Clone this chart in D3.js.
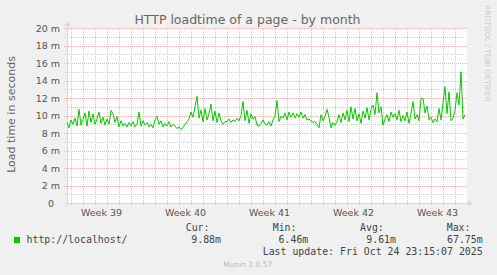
<!DOCTYPE html>
<html>
<head>
<meta charset="utf-8">
<script src="https://cdn.jsdelivr.net/npm/d3@7"></script>
<style>
  html, body { margin: 0; padding: 0; background: #f0f0f0; }
  svg { display: block; }
</style>
</head>
<body>
<div id="chart"></div>
<script>
const title = "HTTP loadtime of a page - by month";
const yLabel = "Load time in seconds";
const seriesName = "http://localhost/";
const startTime = Date.UTC(2025, 8, 21, 16);
const endTime = Date.UTC(2025, 9, 25, 0);
const stepHours = 4;

// load time in ms, one sample per 4 hours
const loadtime = [
  9.2, 8.6, 9.5, 9.0, 9.7, 8.8, 10.7, 8.9, 9.6, 10.3, 8.8, 10.5, 9.2, 10.2, 9.0, 9.6, 10.4, 9.1, 9.8, 8.9,
  9.6, 9.0, 10.6, 10.2, 9.2, 9.9, 8.7, 9.4, 8.8, 9.1, 8.7, 9.2, 8.8, 9.3, 8.7, 9.0, 10.4, 8.8,
  9.4, 8.9, 9.2, 8.7, 9.0, 8.6, 9.5, 9.9, 9.0, 9.4, 8.7, 9.1, 8.8, 9.3, 8.7, 9.0, 8.8, 8.5, 8.7, 8.4,
  8.6, 9.0, 9.3, 9.6, 10.4, 9.8, 11.0, 12.2, 9.7, 10.6, 9.3, 10.8, 9.5, 10.2, 11.3, 9.4, 10.5, 9.2, 10.3, 9.4, 9.0, 9.3,
  9.3, 9.6, 9.2, 9.5, 9.3, 9.7, 9.4, 10.0, 11.6, 9.4, 10.6, 9.1, 10.2, 9.6, 9.9, 8.9, 8.8, 9.1, 9.5, 9.0,
  8.9, 9.3, 8.8, 9.5, 10.0, 11.7, 9.3, 9.9, 9.7, 10.3, 9.5, 10.4, 9.8, 10.3, 9.7, 10.2, 9.8, 10.4, 9.7, 10.1, 9.5, 9.6,
  9.4, 9.2, 9.3, 9.0, 8.6, 10.1, 9.4, 9.9, 10.7, 9.8, 8.6, 9.2, 8.9, 9.3, 10.1, 9.2, 10.3, 9.5, 10.6, 9.3,
  11.0, 9.6, 10.8, 9.4, 10.2, 9.1, 10.5, 9.7, 10.9, 9.5, 10.7, 11.2, 10.1, 12.6, 10.3, 11.0, 8.9, 9.6, 10.1, 9.3, 10.4, 9.8,
  10.2, 9.5, 10.6, 9.3, 10.0, 9.4, 10.4, 9.1, 10.2, 11.6, 9.6, 10.1, 9.4, 11.9, 12.0, 10.3, 11.1, 9.5, 9.8, 9.2,
  9.6, 9.3, 10.8, 9.5, 11.4, 13.3, 10.2, 12.7, 9.4, 9.7, 10.6, 12.6, 11.2, 15.0, 9.6, 10.1
];

const yTicks = [0, 2, 4, 6, 8, 10, 12, 14, 16, 18, 20];
const yMinor = [1, 3, 5, 7, 9, 11, 13, 15, 17, 19];
const statLabels = ["Cur:", "Min:", "Avg:", "Max:"];
const statValues = ["9.88m", "6.46m", "9.61m", "67.75m"];
const lastUpdate = "Last update: Fri Oct 24 23:15:07 2025";
const version = "Munin 2.0.57";
const watermark = "RRDTOOL / TOBI OETIKER";

const width = 497, height = 275;
const plotLeft = 67, plotRight = 467, plotTop = 28, plotBottom = 203;
const sans = "'DejaVu Sans', Verdana, sans-serif";
const mono = "'DejaVu Sans Mono', monospace";

const svg = d3.select("#chart").append("svg")
  .attr("width", width)
  .attr("height", height);

svg.append("rect").attr("width", width).attr("height", height).attr("fill", "#f0f0f0");

const x = d3.scaleUtc().domain([new Date(startTime), new Date(endTime)]).range([plotLeft, plotRight]);
const y = d3.scaleLinear().domain([0, 20]).range([plotBottom, plotTop]);
const px = v => Math.round(v) + 0.5;

// canvas
svg.append("rect")
  .attr("x", plotLeft).attr("y", plotTop)
  .attr("width", plotRight - plotLeft).attr("height", plotBottom - plotTop)
  .attr("fill", "#ffffff");

const grid = svg.append("g").attr("shape-rendering", "crispEdges");
const minorColor = "#cccccc";
const majorColor = "#f4b4b4";

// vertical grid: days (minor), sundays (major)
const days = d3.utcDay.range(new Date(startTime), new Date(endTime));
const minorDays = days.filter(d => d.getUTCDay() !== 0);
const weeks = d3.utcSunday.range(new Date(startTime), new Date(endTime));

grid.selectAll(".vminor")
  .data(minorDays)
  .join("line")
    .attr("x1", d => px(x(d))).attr("x2", d => px(x(d)))
    .attr("y1", plotTop).attr("y2", plotBottom)
    .attr("stroke", minorColor)
    .attr("stroke-dasharray", "1,1");

grid.selectAll(".vminortick")
  .data(minorDays)
  .join("line")
    .attr("x1", d => px(x(d))).attr("x2", d => px(x(d)))
    .attr("y1", plotBottom).attr("y2", plotBottom + 2)
    .attr("stroke", minorColor);

grid.selectAll(".hminor")
  .data(yMinor)
  .join("line")
    .attr("x1", plotLeft - 2).attr("x2", plotRight)
    .attr("y1", d => px(y(d))).attr("y2", d => px(y(d)))
    .attr("stroke", minorColor)
    .attr("stroke-dasharray", "1,1");

grid.selectAll(".vmajor")
  .data(weeks)
  .join("line")
    .attr("x1", d => px(x(d))).attr("x2", d => px(x(d)))
    .attr("y1", plotTop).attr("y2", plotBottom + 3)
    .attr("stroke", majorColor)
    .attr("stroke-dasharray", "1,1");

grid.selectAll(".hmajor")
  .data(yTicks.filter(d => d > 0))
  .join("line")
    .attr("x1", plotLeft - 3).attr("x2", plotRight)
    .attr("y1", d => px(y(d))).attr("y2", d => px(y(d)))
    .attr("stroke", majorColor)
    .attr("stroke-dasharray", "1,1");

// axes lines with arrows
const axisColor = "#cfd6f8";
svg.append("line")
  .attr("x1", plotLeft - 3).attr("x2", plotRight + 2)
  .attr("y1", px(plotBottom)).attr("y2", px(plotBottom))
  .attr("stroke", axisColor).attr("shape-rendering", "crispEdges");
svg.append("line")
  .attr("x1", px(plotLeft)).attr("x2", px(plotLeft))
  .attr("y1", plotBottom + 3).attr("y2", plotTop - 3)
  .attr("stroke", axisColor).attr("shape-rendering", "crispEdges");
svg.append("path")
  .attr("d", `M${plotRight + 1},${plotBottom - 2.5}L${plotRight + 6},${plotBottom + 0.5}L${plotRight + 1},${plotBottom + 3.5}Z`)
  .attr("fill", axisColor);
svg.append("path")
  .attr("d", `M${plotLeft - 2.5},${plotTop - 2}L${plotLeft + 0.5},${plotTop - 7}L${plotLeft + 3.5},${plotTop - 2}Z`)
  .attr("fill", axisColor);

// y axis labels
const yAxis = svg.append("g")
  .attr("transform", `translate(${plotLeft},0)`)
  .call(d3.axisLeft(y).tickValues(yTicks).tickSize(0).tickPadding(7)
    .tickFormat(d => d === 0 ? "0" : d + " m"));
yAxis.select(".domain").remove();
yAxis.selectAll("text")
  .attr("fill", "#555")
  .style("font-family", sans)
  .style("font-size", "9.5px");
yAxis.selectAll(".tick").filter(d => d === 0).select("text").attr("x", -13);

// x axis week labels, centred in each week
const weekLabels = d3.utcSunday.range(d3.utcSunday.floor(new Date(startTime)), new Date(endTime))
  .map(d => d3.utcHour.offset(d, 84))
  .filter(d => x(d) > plotLeft && x(d) < plotRight);
const xAxis = svg.append("g")
  .attr("transform", `translate(0,${plotBottom})`)
  .call(d3.axisBottom(x).tickValues(weekLabels).tickSize(0).tickPadding(6.5)
    .tickFormat(d => "Week " + d3.utcFormat("%V")(d)));
xAxis.select(".domain").remove();
xAxis.selectAll("text")
  .attr("fill", "#555")
  .style("font-family", sans)
  .style("font-size", "9.5px");

// series line
const line = d3.line()
  .x((d, i) => x(new Date(startTime + i * stepHours * 3600000)))
  .y(d => y(d));
svg.append("path")
  .datum(loadtime)
  .attr("d", line)
  .attr("fill", "none")
  .attr("stroke", "#00cc00")
  .attr("stroke-width", 1);

// title and axis title
svg.append("text")
  .attr("x", 247.5).attr("y", 24)
  .attr("text-anchor", "middle")
  .attr("fill", "#666")
  .style("font-family", sans)
  .style("font-size", "12.5px")
  .text(title);

svg.append("text")
  .attr("transform", "translate(15,114.5) rotate(-90)")
  .attr("text-anchor", "middle")
  .attr("fill", "#666")
  .style("font-family", sans)
  .style("font-size", "11px")
  .text(yLabel);

svg.append("text")
  .attr("transform", "translate(485,5) rotate(90)")
  .attr("fill", "#cccccc")
  .style("font-family", sans)
  .style("font-size", "7.5px")
  .text(watermark);

// legend
svg.append("rect")
  .attr("x", 14).attr("y", 237)
  .attr("width", 6).attr("height", 6)
  .attr("fill", "#00cc00");

const legendText = (sel) => sel
  .attr("fill", "#444")
  .style("font-family", mono)
  .style("font-size", "9.9px");

svg.append("text")
  .attr("x", 26.5).attr("y", 243.3)
  .call(legendText)
  .text(seriesName);

const labelX = [185.7, 272.7, 360, 446.7];
const valueEnd = [221, 308.3, 396, 482.7];

svg.selectAll(".statlabel")
  .data(statLabels)
  .join("text")
    .attr("x", (d, i) => labelX[i]).attr("y", 230.7)
    .call(legendText)
    .text(d => d);

svg.selectAll(".statvalue")
  .data(statValues)
  .join("text")
    .attr("x", (d, i) => valueEnd[i]).attr("y", 243.3)
    .attr("text-anchor", "end")
    .call(legendText)
    .text(d => d);

svg.append("text")
  .attr("x", 482.7).attr("y", 255)
  .attr("text-anchor", "end")
  .call(legendText)
  .text(lastUpdate);

svg.append("text")
  .attr("x", 247.7).attr("y", 266.7)
  .attr("text-anchor", "middle")
  .attr("fill", "#bbbbbb")
  .style("font-family", sans)
  .style("font-size", "7.5px")
  .text(version);
</script>
</body>
</html>
